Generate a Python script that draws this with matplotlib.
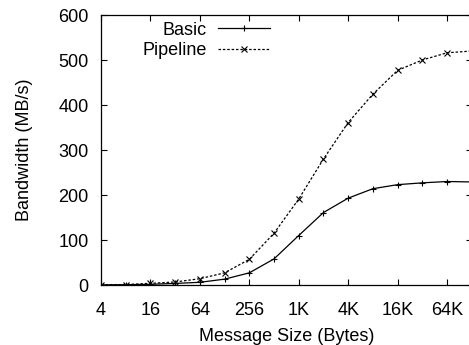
import matplotlib
matplotlib.use("Agg")
import matplotlib.pyplot as plt

plt.rcParams['font.family'] = ['Liberation Sans', 'DejaVu Sans']

# message sizes in bytes (powers of two)
sizes = [4, 8, 16, 32, 64, 128, 256, 512, 1024, 2048, 4096, 8192,
         16384, 32768, 65536, 131072]
basic = [0.3, 0.7, 1.5, 3.5, 6, 13, 27, 58, 110, 161, 193, 214,
         223, 227, 230, 229]
pipeline = [0.5, 1, 3.7, 6.7, 14, 27, 57, 115, 191, 280, 361, 424,
            477, 500, 516, 520]

xticks = [4, 16, 64, 256, 1024, 4096, 16384, 65536]
xtick_labels = ['4', '16', '64', '256', '1K', '4K', '16K', '64K']
yticks = [0, 100, 200, 300, 400, 500, 600]

fs = 13

fig = plt.figure(figsize=(4.69, 3.45), dpi=100)
ax = fig.add_axes([0.2154, 0.1739, 0.7904, 0.7826])

ax.plot(sizes, basic, color='black', lw=0.9, marker='+', ms=4.5,
        mew=0.8, label='Basic')
ax.plot(sizes, pipeline, color='black', lw=0.9, ls=(0, (2, 1.5)),
        marker='x', ms=4, mew=0.8, label='Pipeline')

ax.set_xscale('log', base=2)
ax.set_xlim(4, 131072)
ax.set_ylim(0, 600)
ax.set_xticks(xticks)
ax.set_xticklabels(xtick_labels)
ax.set_yticks(yticks)
ax.minorticks_off()
ax.tick_params(direction='in', top=True, right=True, length=4.5,
               width=0.8, labelsize=fs)
ax.tick_params(axis='x', pad=12)
ax.tick_params(axis='y', pad=9)
for s in ax.spines.values():
    s.set_linewidth(0.9)

ax.set_xlabel('Message Size (Bytes)', fontsize=fs, labelpad=7)
ax.set_ylabel('Bandwidth (MB/s)', fontsize=fs, labelpad=18)

ax.legend(loc='upper right', bbox_to_anchor=(0.456, 0.975),
          markerfirst=False, frameon=False, fontsize=fs,
          handlelength=2.9, handletextpad=0.6, borderpad=0,
          borderaxespad=0, labelspacing=0.2, numpoints=1)

fig.savefig('out.png', dpi=100)
